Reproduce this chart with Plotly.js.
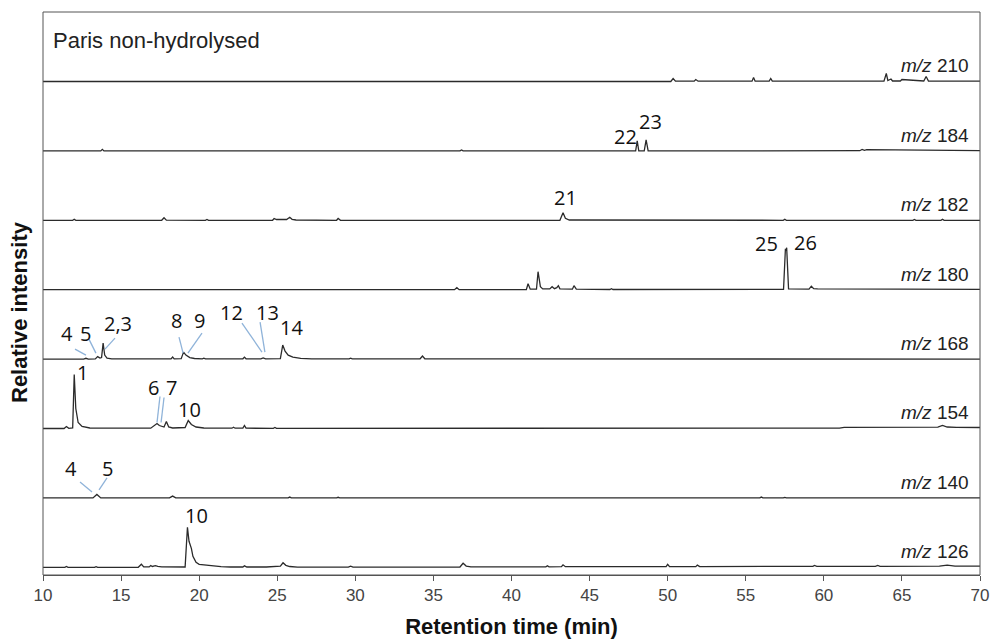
<!DOCTYPE html>
<html>
<head>
<meta charset="utf-8">
<script src="https://cdn.plot.ly/plotly-3.0.1.min.js"></script>
<style>html,body{margin:0;padding:0;background:#fff;}#chart{width:992px;height:639px;}</style>
</head>
<body>
<div id="chart"></div>
<script>
// ---------- DATA (retention time in min, relative intensity) ----------
const ionLabels = ['126', '140', '154', '168', '180', '182', '184', '210'];

const mz126_t = [10, 11.4, 11.5, 11.6, 13.3, 13.4, 13.5, 16.1, 16.3, 16.45, 16.8, 16.9, 17.0, 17.2, 17.35, 17.6, 19.1, 19.25, 19.35, 19.5, 19.6, 19.8, 20.0, 20.2, 20.45, 20.8, 21.4, 22.0, 22.8, 22.9, 23.05, 24.3, 24.9, 25.2, 25.37, 25.55, 25.8, 26.3, 29.55, 29.7, 29.85, 34.2, 34.3, 34.4, 36.7, 36.9, 37.1, 37.4, 42.2, 42.3, 42.4, 43.2, 43.3, 43.45, 49.9, 50.0, 50.12, 51.8, 51.9, 52.05, 57.0, 59.3, 59.4, 59.55, 63.3, 63.45, 63.6, 64.1, 64.25, 64.4, 67.4, 67.9, 68.4, 70];
const mz126_i = [0, 0, 0.8, 0, 0, 0.7, 0, 0, 3, 0.4, 0.4, 1.8, 0.8, 1.6, 1, 0.4, 0.3, 40, 26, 19, 11, 5, 3, 2.6, 2.2, 1.2, 0.6, 0.3, 0.3, 1.5, 0.3, 0.3, 0.6, 1.2, 4.5, 2, 0.8, 0.2, 0.2, 1.2, 0.2, 0.2, 0.8, 0.2, 0.3, 4, 1.2, 0.4, 0.5, 1.5, 0.5, 0.6, 2.5, 0.6, 0.6, 3, 0.7, 0.7, 2.2, 0.7, 0.9, 1, 1.8, 1, 1, 1.8, 1, 1, 1.6, 1.1, 1.2, 2.2, 1.2, 1.2];

const mz140_t = [10, 13.2, 13.45, 13.7, 18.1, 18.3, 18.5, 25.7, 25.8, 25.9, 28.8, 28.9, 29.0, 55.9, 56.0, 56.1, 57.4, 57.5, 57.6, 70];
const mz140_i = [0, 0, 3.5, 0, 0, 1.8, 0, 0, 0.8, 0, 0, 0.6, 0, 0, 0.8, 0, 0, 0.5, 0, 0];

const mz154_t = [10, 11.35, 11.5, 11.65, 11.9, 12.0, 12.1, 12.25, 12.5, 13.0, 16.9, 17.15, 17.3, 17.45, 17.6, 17.75, 17.9, 18.05, 18.3, 19.1, 19.3, 19.5, 19.8, 20.3, 22.1, 22.2, 22.3, 22.8, 22.9, 23.0, 24.75, 24.85, 24.95, 61.0, 61.3, 67.3, 67.6, 67.9, 68.5, 70];
const mz154_i = [0, 0, 2, 0.2, 0.5, 54, 20, 6, 2, 0.5, 0.3, 3.5, 5, 3, 2, 1.5, 7, 1.5, 0.5, 1, 8, 4, 1.5, 0.5, 0.3, 1.2, 0.3, 0.3, 3, 0.3, 0.2, 1, 0.2, 0.3, 1.2, 1.3, 3, 1.5, 1.2, 1];

const mz168_t = [10, 12.6, 12.75, 12.9, 13.35, 13.5, 13.65, 13.75, 13.85, 13.95, 14.1, 14.4, 18.2, 18.3, 18.4, 18.85, 19.0, 19.15, 19.4, 19.7, 20.2, 20.3, 20.4, 22.8, 22.9, 23.0, 23.95, 24.1, 24.25, 25.2, 25.35, 25.5, 25.7, 26.0, 26.5, 27.2, 29.6, 29.7, 29.8, 34.15, 34.3, 34.45, 70];
const mz168_i = [0, 0, 0.8, 0, 0.2, 2.5, 1, 1.5, 16, 4, 1, 0.2, 0.2, 2, 0.2, 0.5, 7, 4, 1.5, 0.6, 0.3, 1, 0.3, 0.3, 2, 0.3, 0.3, 1.2, 0.3, 0.5, 14, 8, 4, 2, 0.8, 0.3, 0.3, 1, 0.3, 0.3, 3, 0.3, 0];

const mz180_t = [10, 36.35, 36.5, 36.65, 40.95, 41.06, 41.2, 41.6, 41.7, 41.85, 42.0, 42.45, 42.6, 42.75, 42.9, 43.0, 43.1, 43.9, 44.0, 44.15, 46.3, 46.4, 46.5, 57.42, 57.54, 57.58, 57.62, 57.74, 59.05, 59.2, 59.35, 59.6, 70];
const mz180_i = [0, 0, 2, 0, 0, 6, 0.5, 0.5, 18, 3, 0.8, 0.8, 3, 1, 2, 4, 0.8, 0.5, 4, 0.5, 0.2, 1, 0.2, 0.3, 41, 39, 42, 0.8, 0.5, 3.5, 1, 0.8, 0.3];

const mz182_t = [10, 11.9, 12.0, 12.1, 17.6, 17.75, 17.9, 20.4, 20.5, 20.6, 24.7, 24.8, 24.95, 25.6, 25.8, 25.95, 26.2, 28.8, 28.9, 29.05, 43.1, 43.3, 43.45, 43.7, 57.4, 57.5, 57.6, 65.7, 65.8, 65.9, 67.5, 67.6, 67.7, 70];
const mz182_i = [0, 0, 1, 0, 0, 2.5, 0.2, 0, 0.8, 0, 0, 1.8, 0.8, 0.8, 3, 1, 0.3, 0, 1.8, 0, 0, 7.5, 2, 0.3, 0, 1, 0, 0, 0.8, 0, 0, 1, 0, 0];

const mz184_t = [10, 13.7, 13.8, 13.9, 36.7, 36.8, 36.9, 47.95, 48.05, 48.15, 48.5, 48.62, 48.75, 62.3, 62.45, 62.6, 62.75, 70];
const mz184_i = [0, 0, 1.5, 0, 0, 1, 0, 0, 10, 0, 0, 11, 0, 0.2, 1.5, 0.5, 1.2, 0.3];

const mz210_t = [10, 17.9, 18.0, 18.1, 50.2, 50.35, 50.5, 51.7, 51.8, 51.95, 55.4, 55.5, 55.6, 56.5, 56.6, 56.7, 63.85, 64.0, 64.1, 64.3, 64.4, 64.9, 65.0, 66.4, 66.55, 66.7, 70];
const mz210_i = [0, 0, 0.6, 0, 0, 3, 0.3, 0.3, 2, 0.3, 0.3, 4, 0.3, 0.3, 3, 0.3, 0.3, 8, 1, 2.5, 0.5, 0.5, 2, 0.5, 5, 0.5, 0.3];

// peak number labels: [text, ion, time, intensity]
const peakLabels = [
  ['10', '126', 19.86, 52],
  ['4', '140', 11.79, 29], ['5', '140', 14.1, 29],
  ['1', '154', 12.56, 56], ['6', '154', 17.1, 41], ['7', '154', 18.26, 41], ['10', '154', 19.35, 19],
  ['4', '168', 11.54, 26], ['5', '168', 12.69, 26], ['2,3', '168', 14.8, 36], ['8', '168', 18.58, 39],
  ['9', '168', 20.05, 39], ['12', '168', 22.04, 47], ['13', '168', 24.4, 47], ['14', '168', 25.94, 32],
  ['25', '180', 56.3, 46], ['26', '180', 58.8, 47],
  ['21', '182', 43.43, 23],
  ['22', '184', 47.27, 14], ['23', '184', 48.87, 29]
];
// leader lines: [ion, t0, i0, t1, i1]
const leaderLines = [
  ['140', 12.37, 16, 13.14, 6], ['140', 14.1, 20, 13.59, 8],
  ['154', 17.49, 32, 17.3, 6], ['154', 17.75, 31, 17.56, 6],
  ['168', 12.05, 10, 12.75, 4], ['168', 12.94, 20, 13.39, 6], ['168', 14.61, 21, 13.97, 10],
  ['168', 18.71, 22, 18.97, 6], ['168', 20.18, 26, 19.28, 6],
  ['168', 22.74, 36, 24.02, 7], ['168', 23.9, 37, 24.21, 7]
];
const xTicks = [10, 15, 20, 25, 30, 35, 40, 45, 50, 55, 60, 65, 70];

// ---------- CHART ----------
const series = {
  '126': [mz126_t, mz126_i], '140': [mz140_t, mz140_i], '154': [mz154_t, mz154_i],
  '168': [mz168_t, mz168_i], '180': [mz180_t, mz180_i], '182': [mz182_t, mz182_i],
  '184': [mz184_t, mz184_i], '210': [mz210_t, mz210_i]
};

const W = 992, Hh = 639, mL = 43, mR = 12, mT = 12, mB = 64;
const plotH = Hh - mT - mB;           // 563
const plotBottom = Hh - mB;           // 575
const base0 = 567.3, step = 69.4, below = 3;
const frac = px => (plotBottom - px) / plotH;

const axName = k => (k === 0 ? 'y' : 'y' + (k + 1));
const axKey = k => (k === 0 ? 'yaxis' : 'yaxis' + (k + 1));
const axOf = ion => axName(ionLabels.indexOf(ion));

const traces = ionLabels.map((ion, k) => ({
  type: 'scatter', mode: 'lines',
  x: series[ion][0], y: series[ion][1],
  xaxis: 'x', yaxis: axName(k),
  line: {color: '#2b2b2b', width: 1.3},
  hoverinfo: 'skip', showlegend: false
}));

const layout = {
  width: W, height: Hh,
  margin: {l: mL, r: mR, t: mT, b: mB},
  paper_bgcolor: '#fff', plot_bgcolor: '#fff',
  showlegend: false,
  font: {family: 'Liberation Sans, Arial, sans-serif', color: '#222'},
  xaxis: {
    range: [10, 70], anchor: 'free', position: 0,
    tickmode: 'array', tickvals: xTicks, ticktext: xTicks.map(String),
    ticks: 'outside', ticklen: 5, tickwidth: 1, tickcolor: '#555',
    showline: true, linecolor: '#555', linewidth: 1,
    showgrid: false, zeroline: false,
    tickfont: {size: 17, color: '#444', family: 'Liberation Sans, Arial, sans-serif'},
    title: {text: '<b>Retention time (min)</b>', font: {size: 22, color: '#111'}, standoff: 16}
  },
  annotations: [],
  shapes: [{
    type: 'rect', xref: 'paper', yref: 'paper', x0: 0, x1: 1, y0: 0, y1: 1,
    line: {color: '#555', width: 1}, fillcolor: 'rgba(0,0,0,0)', layer: 'above'
  }]
};

ionLabels.forEach((ion, k) => {
  const b = base0 - step * k;
  layout[axKey(k)] = {
    domain: [frac(b + below), frac(b - (step - below))],
    range: [-below, step - below],
    anchor: 'x', visible: false, fixedrange: true
  };
  layout.annotations.push({
    xref: 'paper', yref: axName(k), x: (971 - mL) / (W - mL - mR), y: 0,
    xanchor: 'right', yanchor: 'bottom', yshift: 3, showarrow: false,
    text: '<i>m/z</i> ' + ion,
    font: {size: 19, color: '#222', family: 'Liberation Sans, Arial, sans-serif'}
  });
});

peakLabels.forEach(([txt, ion, t, v]) => {
  layout.annotations.push({
    xref: 'x', yref: axOf(ion), x: t, y: v, showarrow: false,
    text: txt, font: {size: 20, color: '#111', family: 'Open Sans, sans-serif'}
  });
});

leaderLines.forEach(([ion, t0, v0, t1, v1]) => {
  layout.shapes.push({
    type: 'line', xref: 'x', yref: axOf(ion), x0: t0, y0: v0, x1: t1, y1: v1,
    line: {color: '#8fb3d9', width: 1.3}
  });
});

layout.annotations.push({
  xref: 'paper', yref: 'paper', x: (51 - mL) / (W - mL - mR), y: frac(40),
  xanchor: 'left', yanchor: 'middle', showarrow: false,
  text: 'Paris non-hydrolysed',
  font: {size: 22, color: '#222', family: 'Liberation Sans, Arial, sans-serif'}
});
layout.annotations.push({
  xref: 'paper', yref: 'paper', x: (19 - mL) / (W - mL - mR), y: frac(312),
  xanchor: 'center', yanchor: 'middle', showarrow: false, textangle: -90,
  text: '<b>Relative intensity</b>',
  font: {size: 22, color: '#111', family: 'Liberation Sans, Arial, sans-serif'}
});

Plotly.newPlot('chart', traces, layout, {displayModeBar: false, staticPlot: true});
</script>
</body>
</html>
